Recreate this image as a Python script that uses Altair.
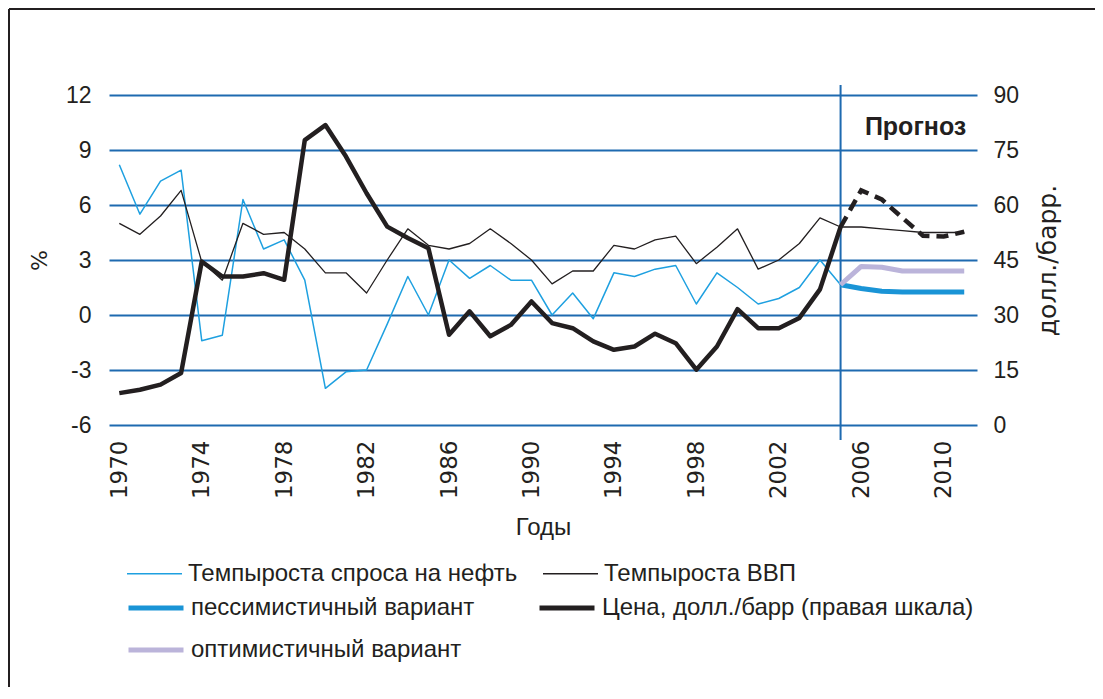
import altair as alt
import pandas as pd

# ---------------- data ----------------
years_hist = list(range(1970, 2006))
years_all = list(range(1970, 2012))
years_fc = list(range(2005, 2012))

oil_demand_growth = [8.2, 5.5, 7.3, 7.9, -1.4, -1.1, 6.3, 3.6, 4.1, 1.9,
                     -4.0, -3.1, -3.0, -0.5, 2.1, 0.0, 3.0, 2.0, 2.7, 1.9,
                     1.9, 0.0, 1.2, -0.2, 2.3, 2.1, 2.5, 2.7, 0.6, 2.3,
                     1.5, 0.6, 0.9, 1.5, 3.0, 1.65]
gdp_growth = [5.0, 4.4, 5.4, 6.8, 2.9, 1.9, 5.0, 4.4, 4.5, 3.6,
              2.3, 2.3, 1.2, 3.0, 4.7, 3.8, 3.6, 3.9, 4.7, 3.9,
              3.0, 1.7, 2.4, 2.4, 3.8, 3.6, 4.1, 4.3, 2.8, 3.7,
              4.7, 2.5, 3.0, 3.9, 5.3, 4.8, 4.8, 4.7, 4.6, 4.5, 4.5, 4.5]
oil_price = [8.7, 9.6, 11.0, 14.2, 44.6, 40.5, 40.5, 41.4, 39.6, 77.7,
             81.8, 73.2, 63.2, 54.1, 51.0, 48.2, 24.6, 31.0, 24.2, 27.3,
             33.7, 27.8, 26.4, 22.8, 20.5, 21.4, 24.9, 22.3, 15.1, 21.4,
             31.6, 26.4, 26.4, 29.2, 37.0, 54.0]
oil_price_forecast = [54.0, 64.0, 61.5, 56.5, 51.6, 51.4, 52.7]
pessimistic = [1.65, 1.45, 1.3, 1.25, 1.25, 1.25, 1.25]
optimistic = [1.65, 2.65, 2.6, 2.4, 2.4, 2.4, 2.4]

x_ticks = list(range(1970, 2011, 4))
y_left_ticks = [-6, -3, 0, 3, 6, 9, 12]
y_right_ticks = [0, 15, 30, 45, 60, 75, 90]
forecast_start = 2005
forecast_label = "Прогноз"

NB = "\u00a0" * 6
S_DEM = "Темпыроста спроса на нефть"
S_GDP = "Темпыроста ВВП"
S_PES = NB + "пессимистичный вариант"
S_PRC = "Цена, долл./барр (правая шкала)"
S_OPT = NB + "оптимистичный вариант"
thin_order = [S_DEM, S_GDP]
thick_order = [S_PES, S_PRC, S_OPT]

# ---------------- styles ----------------
thin_colors = ["#1ea0e0", "#231f20"]
thick_colors = ["#1a94d6", "#231f20", "#bbb4da"]
series_widths = {S_DEM: 1.5, S_GDP: 1.3, S_PES: 5, S_PRC: 4.5, S_OPT: 5}
GRID = "#1e6ab0"
INK = "#231f20"
SANS = "Liberation Sans, Arial, sans-serif"
WIDE = "DejaVu Sans, sans-serif"

W, H = 868, 330

def frame(years, values, name):
    return pd.DataFrame({"year": years, "value": values, "series": name,
                         "w": series_widths[name]})

thin_df = pd.concat([
    frame(years_hist, oil_demand_growth, S_DEM),
    frame(years_all, gdp_growth, S_GDP),
], ignore_index=True)
thick_left_df = pd.concat([
    frame(years_fc, pessimistic, S_PES),
    frame(years_fc, optimistic, S_OPT),
], ignore_index=True)
price_df = frame(years_hist, oil_price, S_PRC)
price_fc_df = pd.DataFrame({"year": years_fc, "value": oil_price_forecast})
label_df = pd.DataFrame({"year": [2011.1], "value": [10.26], "t": [forecast_label]})

x_enc = alt.X("year:Q",
              scale=alt.Scale(domain=[1969.5, 2011.62], nice=False, zero=False),
              axis=alt.Axis(values=x_ticks, format="d", labelAngle=270, title="Годы",
                            ticks=False, domain=False, grid=False,
                            labelFont=WIDE, labelFontSize=23, labelPadding=15,
                            labelColor=INK, titleFont=SANS, titleFontSize=24,
                            titleFontWeight="normal", titleColor=INK, titlePadding=17))

y_left = alt.Y("value:Q",
               scale=alt.Scale(domain=[-6, 12], nice=False, zero=False),
               axis=alt.Axis(values=y_left_ticks, title="%", ticks=False, domain=False,
                             grid=True, gridColor=GRID, gridWidth=2,
                             labelExpr="toString(datum.value)",
                             labelFont=SANS, labelFontSize=23, labelPadding=18,
                             labelColor=INK, titleFont=WIDE, titleFontSize=22,
                             titleFontWeight="normal", titleColor=INK, titlePadding=14))

y_right = alt.Y("value:Q",
                scale=alt.Scale(domain=[0, 90], nice=False, zero=False),
                axis=alt.Axis(orient="right", values=y_right_ticks, title="долл./барр.",
                              ticks=False, domain=False, grid=False,
                              labelFont=SANS, labelFontSize=23, labelPadding=16,
                              labelColor=INK, titleFont=WIDE, titleFontSize=25,
                              titleFontWeight="normal", titleColor=INK,
                              titleAngle=270, titleBaseline="top", titlePadding=17))

legend_common = dict(
    title=None, orient="none", direction="horizontal", columns=2,
    symbolType="stroke", symbolSize=3025,
    labelOffset=5, labelFont=SANS, labelFontSize=24, labelColor=INK, labelLimit=700,
)
thin_legend = alt.Legend(legendX=17, legendY=450, columnPadding=22, rowPadding=6,
                         symbolStrokeWidth=1.5, **legend_common)
thick_legend = alt.Legend(legendX=17, legendY=483, columnPadding=54, rowPadding=-4,
                          symbolStrokeWidth=5, **legend_common)

thin_color = alt.Color("series:N", scale=alt.Scale(domain=thin_order, range=thin_colors),
                       legend=thin_legend)
thick_stroke = alt.Stroke("series:N", scale=alt.Scale(domain=thick_order, range=thick_colors),
                          legend=thick_legend)
width_enc = alt.StrokeWidth("w:Q", scale=None, legend=None)

forecast_rule = alt.Chart(label_df).mark_rule(color=GRID, strokeWidth=2).encode(
    x=alt.datum(forecast_start), y=alt.value(-10), y2=alt.value(H + 15))

thin_lines = alt.Chart(thin_df).mark_line(strokeJoin="round").encode(
    x=x_enc, y=y_left, color=thin_color, strokeWidth=width_enc)

thick_left = alt.Chart(thick_left_df).mark_line(strokeJoin="round").encode(
    x=x_enc, y=y_left, stroke=thick_stroke, strokeWidth=width_enc)

label = alt.Chart(label_df).mark_text(
    align="right", baseline="middle", font=SANS, fontSize=25, fontWeight="bold",
    color=INK).encode(x=x_enc, y=y_left, text="t:N")

price_solid = alt.Chart(price_df).mark_line(strokeJoin="round").encode(
    x=x_enc, y=y_right, stroke=thick_stroke, strokeWidth=width_enc)

price_dash = alt.Chart(price_fc_df).mark_line(
    color=INK, strokeWidth=4.5, strokeDash=[12, 7]).encode(x=x_enc, y=y_right)

# decorative frame (left and top edges of the original picture's border)
frame_left = alt.Chart(label_df).mark_rule(color=INK, strokeWidth=2).encode(
    x=alt.value(-100), y=alt.value(-86), y2=alt.value(H + 300))
frame_top = alt.Chart(label_df).mark_rule(color=INK, strokeWidth=2).encode(
    x=alt.value(-100), x2=alt.value(W + 200), y=alt.value(-86))

left_part = alt.layer(forecast_rule, thin_lines, thick_left, label)
right_part = alt.layer(price_solid, price_dash)

chart = alt.layer(left_part, right_part, frame_left, frame_top).resolve_scale(
    y="independent"
).properties(
    width=W, height=H,
    autosize=alt.AutoSizeParams(type="none"),
    padding={"left": 101, "top": 87, "right": 118, "bottom": 262},
).configure_view(stroke=None)

chart.save("out.html", embed_options={"renderer": "svg", "actions": False})
